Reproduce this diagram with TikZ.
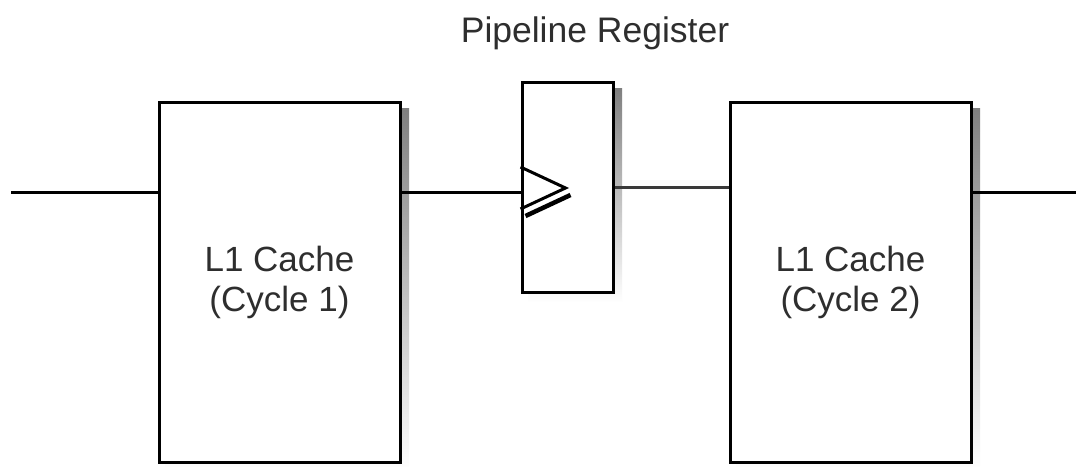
\documentclass[tikz,border=0pt]{standalone}
\usepackage{fontspec}
\setmainfont{Liberation Sans}
\usetikzlibrary{calc,backgrounds}
\definecolor{txt}{HTML}{2E2E2E}
\definecolor{shade}{HTML}{C2C2C2}
\definecolor{wire2}{HTML}{3A3A3A}
\tikzset{
  blk/.style={draw=black, line width=3pt, fill=white, rectangle, inner sep=0pt,
    font=\fontsize{35}{40}\selectfont, text=txt, align=center},
  wire/.style={draw=black, line width=3pt},
  lbl/.style={font=\fontsize{35.5}{40}\selectfont, text=txt, inner sep=0pt}
}
\newcommand\boxshadow[1]{%
  \fill[shade] ($(#1.north west)+(7.5,8)$) rectangle ($(#1.south east)+(7.5,9)$);}
\begin{document}
\begin{tikzpicture}[x=1pt, y=-1pt]
  \useasboundingbox (0,0) rectangle (1076,466);

  % end points of the signal path
  \coordinate (in) at (11,192);
  \coordinate (out) at (1076,192);

  % cache stages and the register between them
  \node[blk, minimum width=241pt, minimum height=360pt] (c1) at (279.5,282) {L1 Cache\\(Cycle 1)};
  \node[blk, minimum width=241pt, minimum height=360pt] (c2) at (850.5,282) {L1 Cache\\(Cycle 2)};
  \node[blk, minimum width=91pt, minimum height=210pt] (reg) at (567.5,187) {};

  % soft shadows behind the boxes
  \begin{pgfonlayer}{background}
    \fill[white] (0,0) rectangle (1076,466);
    \boxshadow{c1}
    \boxshadow{c2}
    \boxshadow{reg}
  \end{pgfonlayer}

  % clock input mark of the register
  \draw[line width=4.5pt, shade] ($(reg.west)+(5,29)$) -- ($(reg.west)+(50,8)$);
  \draw[line width=3pt, line join=miter] ($(reg.west)+(0,-20)$) -- ($(reg.west)+(45,1)$) -- ($(reg.west)+(0,22)$);

  % wires
  \draw[wire] (in) -- (c1.west |- in);
  \draw[wire] (c1.east |- in) -- (reg.west |- in);
  \draw[wire, draw=wire2] (reg.east) -- (c2.west |- reg.east);
  \draw[wire] (c2.east |- out) -- (out);

  \node[lbl, anchor=base] (title) at (595,42) {Pipeline Register};
\end{tikzpicture}
\end{document}
